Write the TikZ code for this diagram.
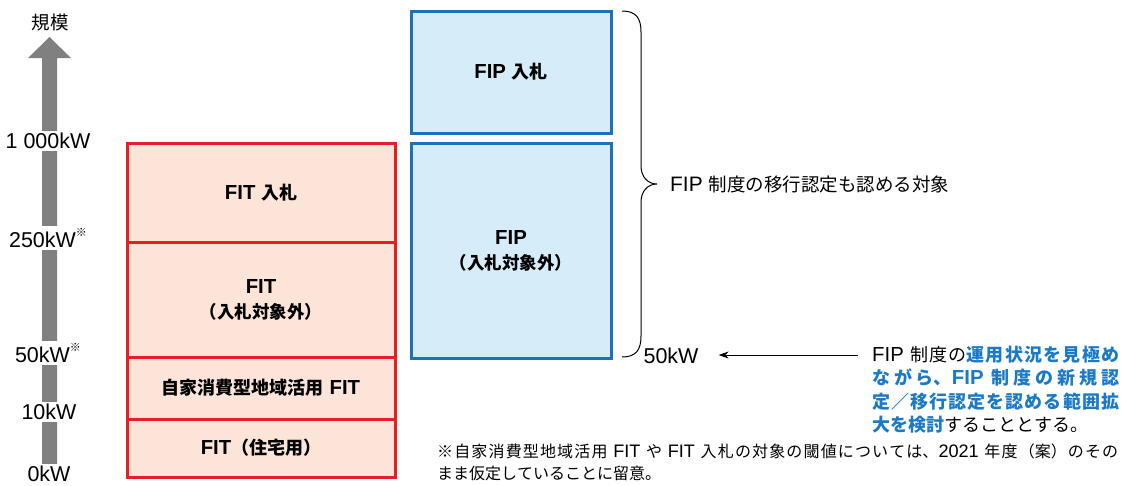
\documentclass[tikz,border=0pt]{standalone}
\usepackage{fontspec}
\setmainfont{Liberation Sans}[Scale=1.13]
\newfontfamily\jpfont{Noto Sans CJK JP}
\newcommand\J[1]{{\jpfont #1}}
\usetikzlibrary{arrows.meta}
\XeTeXlinebreaklocale "ja"
\XeTeXlinebreakskip=0pt plus 4pt
\definecolor{redline}{RGB}{232,30,38}
\definecolor{redfill}{RGB}{252,228,216}
\definecolor{blueline}{RGB}{28,112,188}
\definecolor{bluefill}{RGB}{214,236,249}
\definecolor{arrowgray}{RGB}{128,128,128}
\definecolor{txtblue}{RGB}{26,122,200}
\begin{document}
\begin{tikzpicture}[x=1pt,y=-1pt,
  redbox/.style={draw=redline, fill=redfill, line width=3pt, minimum width=268pt, inner sep=0pt, align=center, font=\fontsize{18}{25}\selectfont\bfseries},
  bluebox/.style={draw=blueline, fill=bluefill, line width=3pt, minimum width=200pt, inner sep=0pt, align=center, font=\fontsize{18}{25}\selectfont\bfseries},
  axislbl/.style={fill=white, inner sep=2pt, font=\fontsize{19}{22}\selectfont},
  plain/.style={inner sep=0pt, font=\fontsize{18.5}{22}\selectfont}
]
\useasboundingbox (0,0) rectangle (1122,485);

% scale arrow
\fill[arrowgray] (42,466) -- (42,58) -- (28,58) -- (49.5,37) -- (71,58) -- (57,58) -- (57,466) -- cycle;
\node[plain] (scale) at (50,22) {\J{規模}};
\node[axislbl] (ax1000) at (48,141) {1 000kW};
\node[axislbl] (ax250) at (48,238) {250kW\raisebox{0.5em}{\fontsize{11}{11}\selectfont\J{※}}};
\node[axislbl] (ax50) at (48,353) {50kW\raisebox{0.5em}{\fontsize{11}{11}\selectfont\J{※}}};
\node[axislbl] (ax10) at (49,412) {10kW};
\node[axislbl] (ax0) at (49,474) {0kW};

% FIT boxes
\node[redbox, minimum height=99pt] (fitbid) at (261,192.5) {FIT \J{入札}};
\node[redbox, minimum height=115pt] (fitnon) at (261,299.5) {FIT\\{\fontsize{17.5}{20}\selectfont\J{（入札対象外）}}};
\node[redbox, minimum height=62pt] (local) at (261,388) {\J{自家消費型地域活用} FIT};
\node[redbox, minimum height=58pt] (home) at (261,448) {FIT\J{（住宅用）}};

% FIP boxes
\node[bluebox, minimum height=122pt] (fipbid) at (511,72) {FIP \J{入札}};
\node[bluebox, minimum height=215pt] (fipnon) at (511,250.5) {FIP\\{\fontsize{17.5}{20}\selectfont\J{（入札対象外）}}};

% brace
\draw[line width=1pt] (622,11) .. controls (636,11) and (641,18) .. (641,32) -- (641,166)
  .. controls (641,177) and (648,184) .. (657,184)
  .. controls (648,184) and (641,191) .. (641,202) -- (641,336)
  .. controls (641,350) and (636,357) .. (622,357);
\coordinate (bracetip) at (657,184);
\node[plain, anchor=west] (fiptext) at ([xshift=13pt]bracetip) {FIP \J{制度の移行認定も認める対象}};

% 50kW and arrow
\node[inner sep=0pt, font=\fontsize{19}{22}\selectfont] (k50) at (671,356) {50kW};
\coordinate (arrstart) at (858,355);
\draw[line width=1pt, -{Stealth[length=10pt,width=7pt]}, shorten >=20pt] (arrstart) -- (k50.east |- arrstart);

% note
\node[anchor=north west, text width=247pt, align=justify, inner sep=0pt, font=\fontsize{18}{23.3}\selectfont] (note) at (872,346) {%
FIP \J{制度の}\textcolor{txtblue}{\bfseries\J{運用状況を見極め}}\linebreak
\textcolor{txtblue}{\bfseries\J{ながら、}FIP \J{制度の新規認}}\linebreak
\textcolor{txtblue}{\bfseries\J{定／移行認定を認める範囲拡}}\linebreak
\textcolor{txtblue}{\bfseries\J{大を検討}}\J{することとする。}};

% footnote
\node[anchor=north west, text width=681pt, align=justify, inner sep=0pt, font=\fontsize{16}{22}\selectfont] (fn) at (437,444) {%
\hangindent=16pt\hangafter=1
\J{※自家消費型地域活用} FIT \J{や} FIT \J{入札の対象の閾値については、}2021 \J{年度（案）のその}\linebreak
\J{まま仮定していることに留意。}};
\end{tikzpicture}
\end{document}
